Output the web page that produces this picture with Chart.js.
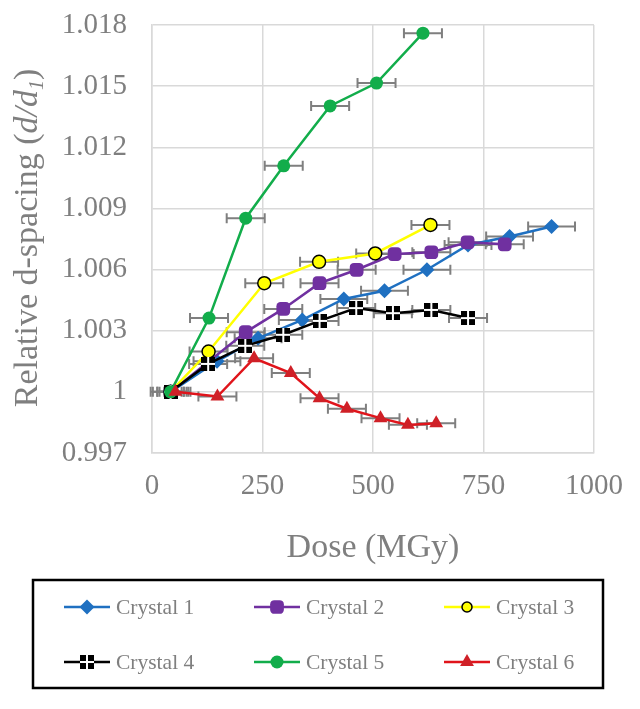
<!DOCTYPE html>
<html>
<head>
<meta charset="utf-8">
<script src="https://cdn.jsdelivr.net/npm/chart.js@4.4.1/dist/chart.umd.min.js"></script>
<style>
  html, body { margin: 0; padding: 0; background: #fff; }
</style>
</head>
<body>
<canvas id="chart" width="640" height="709"></canvas>
<script>
// ===============================
// DATA
// ===============================
const seriesNames = ["Crystal 1", "Crystal 2", "Crystal 3", "Crystal 4", "Crystal 5", "Crystal 6"];

const crystal1Dose = [42, 147, 240, 340, 434, 526, 622, 715, 809, 904];
const crystal1Spacing = [1.0, 1.0015, 1.00263, 1.00353, 1.00456, 1.00496, 1.00599, 1.00721, 1.00762, 1.00811];
const crystal1Err = [30, 53, 53, 53, 53, 53, 53, 53, 53, 53];

const crystal2Dose = [42, 212, 297, 379, 463, 549, 632, 714, 798];
const crystal2Spacing = [1.0, 1.00293, 1.00407, 1.00533, 1.00599, 1.00676, 1.00685, 1.00734, 1.00724];
const crystal2Err = [25, 43, 43, 43, 43, 43, 43, 43, 43];

const crystal3Dose = [42, 128, 254, 378, 505, 630];
const crystal3Spacing = [1.0, 1.00198, 1.00533, 1.00638, 1.00679, 1.00819];
const crystal3Err = [40, 43, 43, 43, 43, 43];

const crystal4Dose = [42, 127, 211, 297, 379, 462, 545, 632, 715];
const crystal4Spacing = [1.0, 1.00137, 1.00226, 1.0028, 1.00348, 1.00411, 1.00386, 1.00402, 1.00362];
const crystal4Err = [45, 43, 43, 43, 43, 43, 43, 43, 43];

const crystal5Dose = [42, 129, 212, 298, 403, 508, 613];
const crystal5Spacing = [1.0, 1.00362, 1.00852, 1.01109, 1.01403, 1.01515, 1.0176];
const crystal5Err = [30, 43, 43, 43, 43, 43, 43];

const crystal6Dose = [53, 148, 231, 314, 379, 441, 517, 579, 643];
const crystal6Spacing = [1.0, 0.99977, 1.00165, 1.00092, 0.99969, 0.99917, 0.99871, 0.99838, 0.99846];
const crystal6Err = [25, 43, 43, 43, 43, 43, 43, 43, 43];

const xTicks = [0, 250, 500, 750, 1000];
const yTicks = [0.997, 1.0, 1.003, 1.006, 1.009, 1.012, 1.015, 1.018];


// ===============================
// STYLE HELPERS
// ===============================
const SERIF = "'Liberation Serif', 'Times New Roman', serif";
const GREY = "#7f7f7f";

// black square split by a white cross (crystal 4 marker)
function blockMarker(){
  const c = document.createElement("canvas");
  c.width = 14; c.height = 14;
  const g = c.getContext("2d");
  g.fillStyle = "#000";
  g.fillRect(0, 0, 14, 14);
  g.fillStyle = "#fff";
  g.fillRect(6, 0, 2, 14);
  g.fillRect(0, 6, 14, 2);
  return c;
}

function points(xs, ys){
  return xs.map((x, i) => ({ x: x, y: ys[i] }));
}

function series(i, xs, ys, errs, line, fill, edge, style, radius){
  return {
    label: seriesNames[i],
    data: points(xs, ys),
    xErr: errs,
    borderColor: line,
    borderWidth: 2.5,
    backgroundColor: fill,
    pointBackgroundColor: fill,
    pointBorderColor: edge,
    pointBorderWidth: edge === fill ? 0 : 1.5,
    pointStyle: style,
    pointRadius: radius,
    tension: 0,
    order: 6 - i
  };
}


// ===============================
// PLUGINS
// ===============================
const errorBars = {
  id: "errorBars",
  beforeDatasetsDraw(chart){
    const { ctx, scales: { x, y } } = chart;
    ctx.save();
    ctx.strokeStyle = GREY;
    ctx.lineWidth = 2;
    chart.data.datasets.forEach(ds => {
      ds.data.forEach((p, j) => {
        const e = ds.xErr[j];
        const x0 = x.getPixelForValue(p.x - e);
        const x1 = x.getPixelForValue(p.x + e);
        const py = y.getPixelForValue(p.y);
        ctx.beginPath();
        ctx.moveTo(x0, py); ctx.lineTo(x1, py);
        ctx.moveTo(x0, py - 5); ctx.lineTo(x0, py + 5);
        ctx.moveTo(x1, py - 5); ctx.lineTo(x1, py + 5);
        ctx.stroke();
      });
    });
    ctx.restore();
  }
};

const axisTitles = {
  id: "axisTitles",
  afterDraw(chart){
    const ctx = chart.ctx;
    const area = chart.chartArea;
    ctx.save();
    ctx.fillStyle = GREY;

    // x title
    ctx.font = "34px " + SERIF;
    ctx.textAlign = "center";
    ctx.textBaseline = "alphabetic";
    ctx.fillText("Dose (MGy)", (area.left + area.right) / 2, 557);

    // y title, with italic d/d and subscript 1
    const parts = [
      { t: "Relative d-spacing (", f: "34px " + SERIF, dy: 0 },
      { t: "d/d", f: "italic 34px " + SERIF, dy: 0 },
      { t: "1", f: "italic 20px " + SERIF, dy: 6 },
      { t: ")", f: "34px " + SERIF, dy: 0 }
    ];
    let total = 0;
    parts.forEach(p => { ctx.font = p.f; total += ctx.measureText(p.t).width; });
    ctx.translate(37, 238);
    ctx.rotate(-Math.PI / 2);
    ctx.textAlign = "left";
    let cx = -total / 2;
    parts.forEach(p => {
      ctx.font = p.f;
      ctx.fillText(p.t, cx, p.dy);
      cx += ctx.measureText(p.t).width;
    });
    ctx.restore();
  }
};

const boxLegend = {
  id: "boxLegend",
  afterDraw(chart){
    const ctx = chart.ctx;
    const cols = [87, 277, 467];
    const rows = [607, 662];
    ctx.save();
    ctx.strokeStyle = "#000";
    ctx.lineWidth = 2.5;
    ctx.strokeRect(33, 580, 570, 108);

    chart.data.datasets.forEach((ds, i) => {
      const mx = cols[i % 3];
      const my = rows[Math.floor(i / 3)];
      ctx.strokeStyle = ds.borderColor;
      ctx.lineWidth = 2.5;
      ctx.beginPath();
      ctx.moveTo(mx - 23, my);
      ctx.lineTo(mx + 23, my);
      ctx.stroke();

      ctx.fillStyle = ds.pointBackgroundColor;
      ctx.strokeStyle = ds.pointBorderColor;
      ctx.lineWidth = ds.pointBorderWidth;
      Chart.helpers.drawPoint(ctx, {
        pointStyle: ds.pointStyle,
        radius: i === 2 ? 5 : ds.pointRadius,
        rotation: 0,
        borderWidth: ds.pointBorderWidth
      }, mx, my);

      ctx.fillStyle = GREY;
      ctx.font = "21.5px " + SERIF;
      ctx.textAlign = "left";
      ctx.textBaseline = "middle";
      ctx.fillText(ds.label, mx + 29, my + 1);
    });
    ctx.restore();
  }
};


// ===============================
// CHART
// ===============================
const gridColor = "#d9d9d9";

new Chart(document.getElementById("chart"), {
  type: "line",
  data: {
    datasets: [
      series(0, crystal1Dose, crystal1Spacing, crystal1Err, "#1f70c1", "#1f70c1", "#1f70c1", "rectRot", 7.5),
      series(1, crystal2Dose, crystal2Spacing, crystal2Err, "#7030a0", "#7030a0", "#7030a0", "rectRounded", 8),
      series(2, crystal3Dose, crystal3Spacing, crystal3Err, "#ffff00", "#ffff00", "#000000", "circle", 6.5),
      series(3, crystal4Dose, crystal4Spacing, crystal4Err, "#000000", "#000000", "#000000", blockMarker(), 7),
      series(4, crystal5Dose, crystal5Spacing, crystal5Err, "#12ad4b", "#12ad4b", "#12ad4b", "circle", 6.5),
      series(5, crystal6Dose, crystal6Spacing, crystal6Err, "#e0141b", "#cf2027", "#cf2027", "triangle", 8)
    ]
  },
  options: {
    responsive: false,
    animation: false,
    layout: { padding: { top: 25, right: 46, left: 0, bottom: 0 } },
    plugins: {
      legend: { display: false },
      tooltip: { enabled: false }
    },
    scales: {
      x: {
        type: "linear",
        min: 0,
        max: 1000,
        afterBuildTicks: s => { s.ticks = xTicks.map(v => ({ value: v })); },
        afterFit: s => { s.height = 256; },
        grid: { color: gridColor, lineWidth: 1.5, drawTicks: false },
        border: { display: true, color: gridColor, width: 1.5 },
        ticks: {
          color: GREY,
          padding: 16,
          maxRotation: 0,
          font: { family: SERIF, size: 29 },
          callback: v => String(v)
        }
      },
      y: {
        type: "linear",
        min: 0.997,
        max: 1.018,
        afterBuildTicks: s => { s.ticks = yTicks.map(v => ({ value: v })); },
        afterFit: s => {
          s.width = 152;
          s.paddingTop = 0;
          s.paddingBottom = 0;
        },
        grid: { color: gridColor, lineWidth: 1.5, drawTicks: false },
        border: { display: true, color: gridColor, width: 1.5 },
        ticks: {
          color: GREY,
          padding: 25,
          font: { family: SERIF, size: 29 },
          callback: v => String(Number(v.toFixed(3)))
        }
      }
    }
  },
  plugins: [errorBars, axisTitles, boxLegend]
});
</script>
</body>
</html>
